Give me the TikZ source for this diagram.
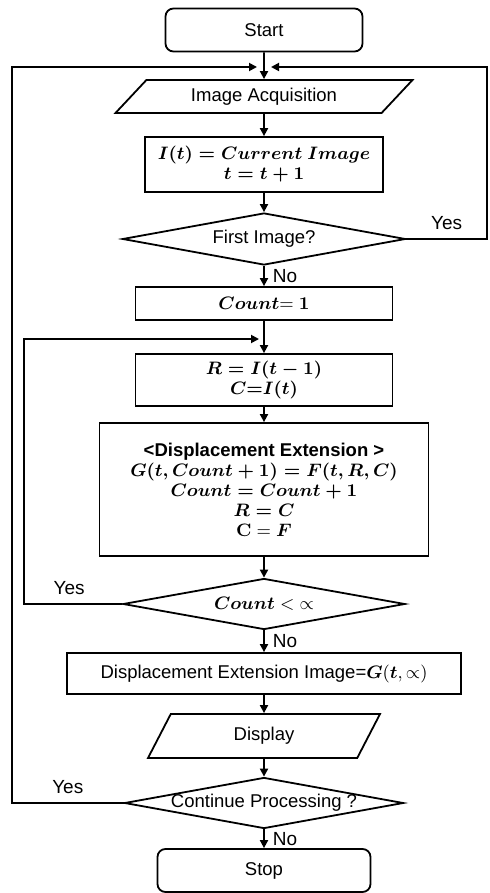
\documentclass[tikz,border=0pt]{standalone}
\usepackage{amsmath,amssymb}
\usepackage[no-math]{fontspec}
\setmainfont{Liberation Sans}
\usetikzlibrary{shapes.geometric, arrows.meta, positioning}

\begin{document}
\begin{tikzpicture}[
    x=0.5pt, y=-0.5pt,
    font=\fontsize{9.25}{11}\selectfont,
    line width=0.9pt,
    terminal/.style={rectangle, draw, rounded corners=4pt, minimum height=21.5pt, align=center},
    process/.style={rectangle, draw, align=center, inner sep=2pt},
    io/.style={trapezium, draw, trapezium stretches body=true, align=center, inner sep=1pt},
    decision/.style={diamond, draw, inner sep=0pt, align=center},
    arrow/.style={-{Triangle[length=4pt,width=4pt]}},
    branch/.style={font=\fontsize{9.5}{11}\selectfont, inner sep=4pt},
]
\useasboundingbox (0,0) rectangle (490,893);

% Main column
\node[terminal, minimum width=98.5pt] (start) at (264,30) {Start};
\node[io, trapezium left angle=34.5, trapezium right angle=145.5, minimum width=148.5pt, minimum height=16.5pt] (acq) at (264,96.5) {Image Acquisition};
\node[process, minimum width=119pt, minimum height=27.5pt] (curr) at (264,164.5) {$\boldsymbol{I(t) = Current\ Image}$\\[-1pt] $\boldsymbol{t = t+1}$};
\node[decision, minimum width=141.5pt, minimum height=26pt] (first) at (264,239) {\makebox[0pt]{First Image?}};
\node[process, minimum width=128.5pt, minimum height=16.5pt] (count) at (264,303.5) {$\boldsymbol{Count}{=}\ \mathbf{1}$};
\node[process, minimum width=128.5pt, minimum height=26pt] (refcur) at (264,380) {$\boldsymbol{R = I(t-1)}$\\[-1pt] $\boldsymbol{C{=}I(t)}$};

% Displacement extension step
\node[process, minimum width=164.5pt, minimum height=66.5pt] (disp) at (264,489.5) {\textbf{<Displacement Extension >}\\[-1pt]
    $\boldsymbol{G(t, Count+1) = F(t, R, C)}$\\[-1pt]
    $\boldsymbol{Count = Count+1}$\\[-1pt]
    $\boldsymbol{R = C}$\\[-1pt]
    $\mathbf{C} = \boldsymbol{F}$};
\node[decision, minimum width=141pt, minimum height=25.5pt] (less) at (264,604) {\makebox[0pt]{$\boldsymbol{Count} < {\propto}$}};
\node[process, minimum width=197pt, minimum height=20.5pt] (dimg) at (264,673.5) {Displacement Extension Image=$\boldsymbol{G}(\boldsymbol{t},\propto)$};
\node[io, trapezium left angle=43, trapezium right angle=137, minimum width=116pt, minimum height=22pt] (show) at (264,736) {Display};
\node[decision, minimum width=139.5pt, minimum height=25.5pt] (cont) at (264,803) {\makebox[0pt]{Continue Processing ?}};
\node[terminal, minimum width=106.5pt] (stop) at (264,870.5) {Stop};

% Loop rails
\coordinate (rightrail) at (487,67);
\coordinate (leftrail) at (12,67);
\coordinate (innerrail) at (24,339);
\coordinate (tipR) at (271,67);
\coordinate (tipL) at (257,67);
\coordinate (tipIn) at (259,339);

\draw[arrow] (start) -- (acq);
\draw[arrow] (acq) -- (curr);
\draw[arrow] (curr) -- (first);
\draw[arrow] (first) -- node[branch, right] {No} (count);
\draw[arrow] (count) -- (refcur);
\draw[arrow] (refcur) -- (disp);
\draw[arrow] (disp) -- (less);
\draw[arrow] (less) -- node[branch, right] {No} (dimg);
\draw[arrow] (dimg) -- (show);
\draw[arrow] (show) -- (cont);
\draw[arrow] (cont) -- node[branch, right] {No} (stop);

\draw[arrow] (first.east) -| node[branch, pos=0.25, above] {Yes} (rightrail) -- (tipR);
\draw[arrow] (less.west) -| node[branch, pos=0.27, above] {Yes} (innerrail) -- (tipIn);
\draw[arrow] (cont.west) -| node[branch, pos=0.25, above] {Yes} (leftrail) -- (tipL);

\end{tikzpicture}
\end{document}
